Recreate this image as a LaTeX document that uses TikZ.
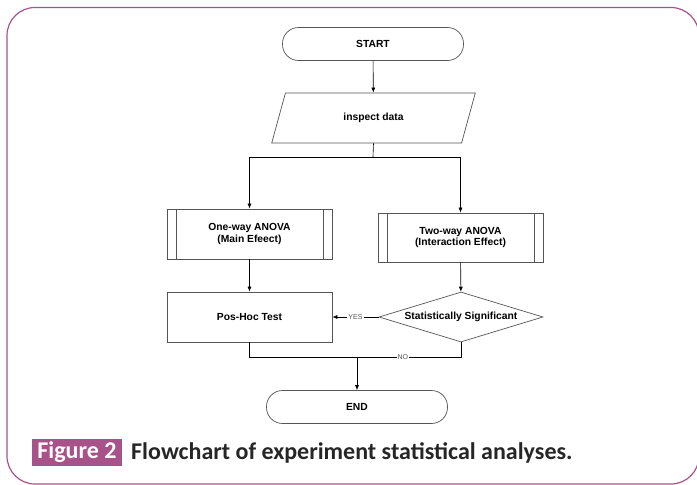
\documentclass[tikz,border=0pt]{standalone}
\usepackage{fontspec}
\newfontfamily\chartfont{Liberation Sans}
\newfontfamily\capfont{Carlito}
\usetikzlibrary{shapes.geometric,arrows.meta}
\definecolor{framepurple}{RGB}{168,82,138}
\definecolor{boxgray}{RGB}{85,85,85}
\tikzset{
  box/.style={draw=boxgray, line width=0.7pt, minimum width=165pt, minimum height=50pt,
    align=center, inner sep=0pt, font=\chartfont\fontsize{10.3}{11.5}\selectfont\bfseries},
  terminal/.style={box, rounded corners=16pt, minimum width=181pt, minimum height=33pt},
  subproc/.style={box, path picture={
    \draw[boxgray, line width=0.7pt]
      ([xshift=9pt]path picture bounding box.north west) -- ([xshift=9pt]path picture bounding box.south west)
      ([xshift=-9pt]path picture bounding box.north east) -- ([xshift=-9pt]path picture bounding box.south east);}},
  arr/.style={-{Latex[length=5pt,width=4pt]}, line width=0.6pt},
  lbl/.style={fill=white, inner sep=1pt, text=boxgray, font=\chartfont\fontsize{7}{8}\selectfont}
}
\begin{document}
\begin{tikzpicture}[x=1pt,y=-1pt]
  \useasboundingbox (0,0) rectangle (697,485);
  \draw[framepurple, line width=1.2pt, rounded corners=28pt] (7,7.5) rectangle (699,484);

  \node[terminal] (start) at (373,44) {START};
  \node[box, trapezium, trapezium left angle=64, trapezium right angle=116,
    trapezium stretches=true, minimum width=205pt, minimum height=50pt] (data) at (373.5,118) {inspect data};
  \coordinate (split) at (373,157);
  \node[subproc] (oneway) at (249.5,234) {One-way ANOVA\\(Main Efeect)};
  \node[subproc, minimum height=49pt] (twoway) at (460.5,237.5) {Two-way ANOVA\\(Interaction Effect)};
  \node[box] (poshoc) at (249.5,317) {Pos-Hoc Test};
  \node[box, diamond, aspect=3.3, minimum width=164pt, minimum height=50pt] (signif) at (461,317) {Statistically Significant};
  \coordinate (merge) at (357,357);
  \node[terminal] (end) at (357,407) {END};

  \draw[arr] (start) -- (data);
  \draw[line width=0.6pt] (data.south) -- (split);
  \foreach \b in {oneway,twoway}
    \draw[arr] (split) -| (\b.north);
  \draw[arr] (oneway) -- (poshoc);
  \draw[arr] (twoway) -- (signif);
  \draw[arr] (signif.west) -- node[lbl] {YES} (poshoc.east);
  \draw[line width=0.6pt] (poshoc.south) |- (merge);
  \draw[line width=0.6pt] (signif.south) |- node[lbl, pos=0.78] {NO} (merge);
  \draw[arr] (merge) -- (end);

  \node[fill=framepurple, text=white, font=\capfont\fontsize{24}{28}\selectfont\bfseries,
    minimum width=90pt, minimum height=27pt, inner sep=0pt] (figlabel) at (77,452.5) {Figure 2};
  \node[anchor=west, inner sep=0pt, text=black!85, font=\capfont\fontsize{24}{28}\selectfont\bfseries]
    (caption) at (131,452.5) {Flowchart of experiment statistical analyses.};
\end{tikzpicture}
\end{document}
